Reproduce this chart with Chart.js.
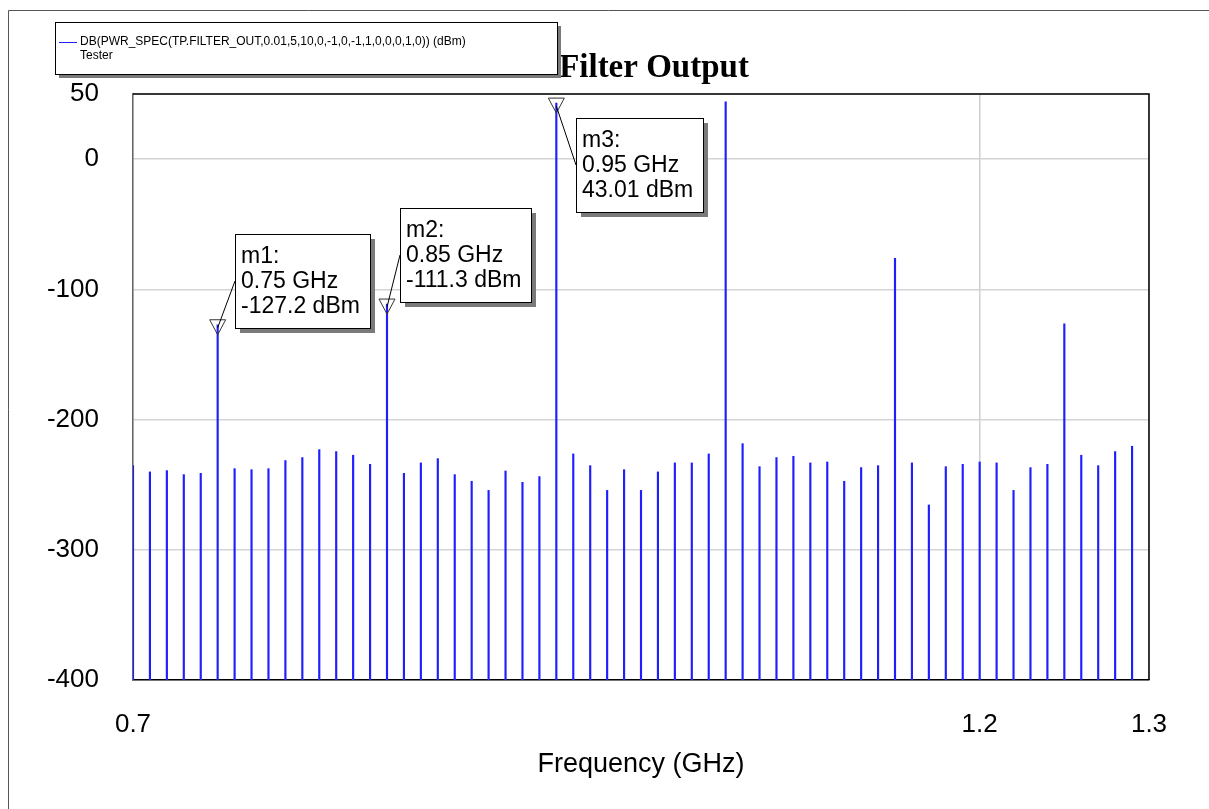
<!DOCTYPE html>
<html>
<head>
<meta charset="utf-8">
<title>Filter Output</title>
<script src="https://cdn.jsdelivr.net/npm/chart.js@4.4.1/dist/chart.umd.min.js"></script>
<style>
  html, body { margin: 0; padding: 0; background: #fff; }
  #wrap { width: 1209px; height: 809px; }
</style>
</head>
<body>
<div id="wrap"><canvas id="chart" width="1209" height="809"></canvas></div>
<script>
// ===== DATA =====
const freqs = [
  0.70, 0.71, 0.72, 0.73, 0.74, 0.75, 0.76, 0.77, 0.78, 0.79,
  0.80, 0.81, 0.82, 0.83, 0.84, 0.85, 0.86, 0.87, 0.88, 0.89,
  0.90, 0.91, 0.92, 0.93, 0.94, 0.95, 0.96, 0.97, 0.98, 0.99,
  1.00, 1.01, 1.02, 1.03, 1.04, 1.05, 1.06, 1.07, 1.08, 1.09,
  1.10, 1.11, 1.12, 1.13, 1.14, 1.15, 1.16, 1.17, 1.18, 1.19,
  1.20, 1.21, 1.22, 1.23, 1.24, 1.25, 1.26, 1.27, 1.28, 1.29
];
const powerDbm = [
  -235.4, -240.2, -239.2, -242.3, -241.3, -127.2, -237.7, -238.5, -237.7, -231.5,
  -229.2, -223.1, -224.6, -227.4, -234.4, -111.3, -241.3, -233.3, -230.0, -242.3,
  -247.4, -254.4, -239.5, -248.2, -243.8,  43.01, -226.4, -235.4, -254.4, -238.5,
  -254.4, -240.2, -233.3, -233.3, -226.4,  44.0,  -218.5, -236.2, -229.2, -228.2,
  -233.3, -232.6, -247.4, -236.9, -235.4, -76.2,  -233.3, -265.6, -236.2, -234.4,
  -232.6, -233.3, -254.4, -236.9, -234.4, -126.4, -227.4, -235.4, -224.6, -220.5
];
const xTicks = [0.7, 1.2, 1.3];
const yTicks = [-400, -300, -200, -100, 0, 50];
const markerNames = ['m1', 'm2', 'm3'];
const markerFreqs = [0.75, 0.85, 0.95];
const seriesLabel = 'DB(PWR_SPEC(TP.FILTER_OUT,0.01,5,10,0,-1,0,-1,1,0,0,0,1,0)) (dBm)';
const seriesSource = 'Tester';
const chartTitle = 'Filter Output';

// ===== LAYOUT / STYLE =====
const SANS = '"Liberation Sans", Arial, sans-serif';
const SERIF = '"Liberation Serif", "Times New Roman", serif';
const STEM = 'rgb(30,30,255)';
const SHADOW = '#7a7a7a';
// label box offset from its marker point, in pixels
const labelOffsets = [{ dx: 17, dy: -91 }, { dx: 13, dy: -96 }, { dx: 20, dy: 15 }];

// ===== OVERLAY: frame, title, legend, markers =====
const overlay = {
  id: 'overlay',
  afterDraw(chart) {
    const { ctx, chartArea: a, scales: { x, y } } = chart;
    ctx.save();

    // outer page frame
    ctx.strokeStyle = '#555';
    ctx.lineWidth = 1;
    ctx.beginPath();
    ctx.moveTo(8.5, 809); ctx.lineTo(8.5, 10.5); ctx.lineTo(1209, 10.5);
    ctx.stroke();

    // plot top / right edges
    ctx.strokeStyle = '#000';
    ctx.lineWidth = 1.5;
    ctx.beginPath();
    ctx.moveTo(a.left, a.top); ctx.lineTo(a.right, a.top); ctx.lineTo(a.right, a.bottom);
    ctx.stroke();

    // title
    ctx.fillStyle = '#000';
    ctx.font = 'bold 33px ' + SERIF;
    ctx.textAlign = 'center';
    ctx.textBaseline = 'alphabetic';
    ctx.fillText(chartTitle, 654, 77);

    // legend box
    const lg = { x: 55, y: 22, w: 502, h: 52 };
    ctx.fillStyle = SHADOW;
    ctx.fillRect(lg.x + 4, lg.y + 4, lg.w, lg.h);
    ctx.fillStyle = '#fff';
    ctx.fillRect(lg.x, lg.y, lg.w, lg.h);
    ctx.strokeStyle = '#000';
    ctx.lineWidth = 1;
    ctx.strokeRect(lg.x + 0.5, lg.y + 0.5, lg.w, lg.h);
    ctx.strokeStyle = STEM;
    ctx.beginPath(); ctx.moveTo(59, 42.5); ctx.lineTo(77, 42.5); ctx.stroke();
    ctx.fillStyle = '#000';
    ctx.font = '12px ' + SANS;
    ctx.textAlign = 'left';
    ctx.textBaseline = 'middle';
    ctx.fillText(seriesLabel, 80, 42);
    ctx.fillText(seriesSource, 80, 56);

    // markers
    markerNames.forEach((name, k) => {
      const i = freqs.findIndex(f => Math.abs(f - markerFreqs[k]) < 1e-9);
      const v = powerDbm[i];
      const px = x.getPixelForValue(markerFreqs[k]);
      const py = y.getPixelForValue(v);

      ctx.strokeStyle = '#333';
      ctx.lineWidth = 1;
      ctx.beginPath();
      ctx.moveTo(px - 8, py - 5); ctx.lineTo(px + 8, py - 5); ctx.lineTo(px, py + 10);
      ctx.closePath();
      ctx.stroke();

      const lines = [name + ':', markerFreqs[k].toFixed(2) + ' GHz', v.toPrecision(4) + ' dBm'];
      ctx.font = '23px ' + SANS;
      const tw = Math.max(...lines.map(s => ctx.measureText(s).width));
      const bw = Math.round(tw + 16), bh = 94;
      const bx = Math.round(px + labelOffsets[k].dx), by = Math.round(py + labelOffsets[k].dy);

      ctx.strokeStyle = '#000';
      ctx.beginPath();
      ctx.moveTo(px, py + 3); ctx.lineTo(bx, by + bh / 2);
      ctx.stroke();

      ctx.fillStyle = SHADOW;
      ctx.fillRect(bx + 5, by + 5, bw, bh);
      ctx.fillStyle = '#fff';
      ctx.fillRect(bx, by, bw, bh);
      ctx.strokeStyle = '#000';
      ctx.strokeRect(bx + 0.5, by + 0.5, bw, bh);

      ctx.fillStyle = '#000';
      ctx.textAlign = 'left';
      ctx.textBaseline = 'middle';
      lines.forEach((s, j) => ctx.fillText(s, bx + 6, by + 23 + j * 25));
    });

    ctx.restore();
  }
};

// ===== CHART =====
new Chart(document.getElementById('chart'), {
  type: 'bar',
  data: {
    datasets: [{
      label: seriesLabel,
      data: freqs.map((f, i) => ({ x: f, y: [yTicks[0], powerDbm[i]] })),
      backgroundColor: STEM,
      barThickness: 1.5,
      grouped: false
    }]
  },
  options: {
    responsive: false,
    animation: false,
    layout: { padding: { top: 94, right: 60, left: 0, bottom: 0 } },
    plugins: { legend: { display: false }, tooltip: { enabled: false } },
    scales: {
      x: {
        type: 'linear',
        min: 0.7,
        max: 1.3,
        offset: false,
        afterBuildTicks: s => { s.ticks = xTicks.map(v => ({ value: v })); },
        afterFit: s => { s.height = 129; },
        grid: { color: '#cfcfcf', lineWidth: 1.5, drawTicks: false, offset: false },
        border: { display: true, color: '#000', width: 1.5 },
        ticks: {
          padding: 29,
          color: '#000',
          maxRotation: 0,
          font: { family: SANS, size: 26 },
          callback: v => String(v)
        },
        title: {
          display: true,
          text: 'Frequency (GHz)',
          color: '#000',
          font: { family: SANS, size: 27 },
          padding: { top: 28, bottom: 28 }
        }
      },
      y: {
        min: -400,
        max: 50,
        afterBuildTicks: s => { s.ticks = yTicks.map(v => ({ value: v })); },
        afterFit: s => { s.width = 133; },
        grid: { color: '#d4d4d4', lineWidth: 1.5, drawTicks: false },
        border: { display: true, color: '#666', width: 1.5 },
        ticks: {
          padding: 34,
          color: '#000',
          font: { family: SANS, size: 26 },
          callback: v => String(v)
        }
      }
    }
  },
  plugins: [overlay]
});
</script>
</body>
</html>
